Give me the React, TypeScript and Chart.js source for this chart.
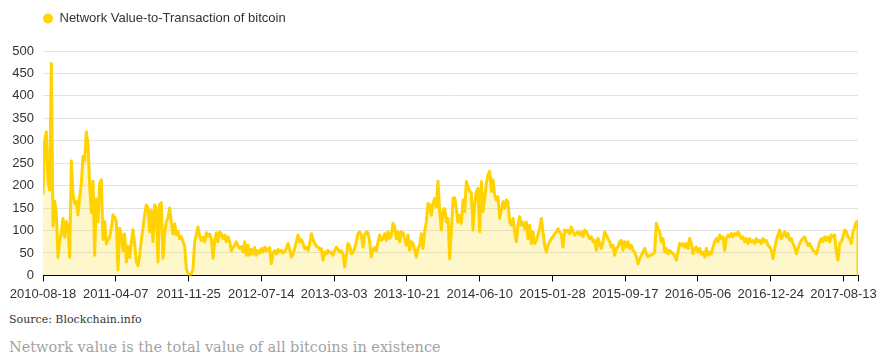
import React, { useEffect, useRef } from 'react';
import { Chart, registerables } from 'chart.js';

Chart.register(...registerables);

const SERIES_LABEL = 'Network Value-to-Transaction of bitcoin';
const SOURCE_TEXT = 'Source: Blockchain.info';
const NOTE_TEXT = 'Network value is the total value of all bitcoins in existence';
const START_DATE = '2010-08-18';
const SAMPLE_STEP_DAYS = 5.313;
const X_TICK_STEP_DAYS = 232;
const X_TICK_COUNT = 12;
const Y_MIN = 0;
const Y_MAX = 500;
const Y_STEP = 50;

// NVT readings, sampled every ~5.3 days starting 2010-08-18
const nvtAug2010toJun2012 = [
  180, 300, 320, 210, 190, 472, 110, 165, 140, 40,
  75, 95, 127, 85, 120, 105, 40, 255, 180, 160,
  165, 135, 175, 205, 265, 255, 320, 290, 200, 140,
  210, 45, 170, 120, 205, 213, 80, 120, 70, 80,
  85, 105, 135, 130, 120, 12, 105, 90, 55, 92,
  30, 65, 40, 75, 102, 70, 30, 22, 45, 80,
  105, 135, 157, 150, 97, 145, 75, 157, 150, 30,
  158, 162, 38, 92, 120, 128, 150, 118, 92, 115,
  90, 98, 82, 86, 75, 65, 15, 5, 0, 3,
  15, 75, 92, 108, 88, 78, 85, 75, 95, 88,
  92, 82, 38, 75, 95, 75, 97, 92, 82, 90,
  75, 86, 75, 55, 62, 67, 75, 66, 60, 64,
  52, 75, 45, 67, 45,
];

const nvtJun2012toFeb2014 = [
  58, 48, 62, 45, 55, 50, 60, 52, 63, 55,
  58, 62, 26, 50, 55, 48, 58, 52, 56, 50,
  54, 60, 71, 58, 41, 48, 60, 75, 90, 75,
  80, 72, 60, 62, 56, 70, 93, 80, 72, 65,
  63, 58, 60, 34, 52, 48, 56, 50, 52, 45,
  55, 63, 58, 52, 55, 48, 19, 45, 71, 65,
  48, 52, 60, 75, 93, 97, 90, 63, 90, 97,
  95, 75, 41, 58, 62, 55, 75, 90, 78, 82,
  93, 78, 97, 82, 90, 116, 108, 82, 97, 75,
  97, 95, 82, 67, 90, 56, 75, 72, 56, 41,
  60, 67, 93, 60, 97, 119, 160, 157, 134, 160,
  172, 153, 210, 142, 101, 146, 149, 119, 127, 37,
  97, 172, 173,
];

const nvtFeb2014toSep2015 = [
  149, 119, 134, 116, 168, 142, 209, 198, 187, 183,
  101, 157, 187, 194, 97, 209, 142, 172, 205, 224,
  232, 187, 213, 179, 168, 175, 127, 146, 164, 149,
  168, 164, 119, 112, 127, 97, 75, 112, 131, 112,
  119, 104, 119, 82, 112, 71, 97, 71, 78, 90,
  104, 127, 97, 67, 52, 67, 75, 82, 86, 93,
  97, 104, 97, 90, 63, 101, 97, 101, 93, 108,
  97, 90, 93, 97, 90, 97, 86, 101, 97, 90,
  82, 86, 75, 78, 56, 82, 71, 60, 75, 97,
  90, 82, 75, 63, 67, 45, 60, 63, 75, 78,
  56, 75, 63, 75, 60, 67, 56, 52, 41, 26,
  37, 45, 52, 60, 48, 41, 45, 45, 48, 52,
  116, 104, 97,
];

const nvtSep2015toSep2017 = [
  75, 82, 52, 60, 48, 56, 52, 48, 45, 34,
  52, 71, 67, 71, 63, 71, 60, 82, 71, 48,
  60, 63, 52, 60, 48, 52, 41, 60, 45, 52,
  48, 63, 75, 82, 75, 90, 82, 86, 56, 82,
  90, 86, 93, 86, 93, 90, 97, 90, 82, 86,
  75, 82, 71, 82, 75, 78, 71, 82, 75, 78,
  71, 82, 75, 78, 67, 63, 56, 37, 60, 78,
  90, 101, 82, 90, 97, 86, 93, 78, 82, 71,
  63, 48, 60, 71, 78, 82, 86, 75, 67, 71,
  63, 56, 52, 48, 60, 75, 82, 75, 86, 78,
  86, 75, 90, 86, 90, 52, 34, 71, 75, 86,
  101, 97, 86, 82, 71, 97, 108, 119, 121,
];

const nvtValues = [
  ...nvtAug2010toJun2012,
  ...nvtJun2012toFeb2014,
  ...nvtFeb2014toSep2015,
  ...nvtSep2015toSep2017,
];

const LINE_COLOR = '#FFD200';
const FILL_COLOR = 'rgba(255, 214, 0, 0.2)';
const TEXT_COLOR = '#333333';
const FONT = '"Liberation Sans", Arial, sans-serif';

function dayToLabel(day: number): string {
  const t = new Date(START_DATE + 'T00:00:00Z').getTime() + Math.round(day) * 86400000;
  return new Date(t).toISOString().slice(0, 10);
}

const legendSpacer = {
  id: 'legendSpacer',
  beforeInit(chart: any) {
    const legend = chart.legend;
    if (!legend) return;
    const origFit = legend.fit;
    legend.fit = function () {
      origFit.call(this);
      this.height += 16;
    };
  },
};

export default function App() {
  const ref = useRef<HTMLCanvasElement>(null);

  useEffect(() => {
    document.body.style.margin = '0';
    const points = nvtValues.map((v, i) => ({ x: i * SAMPLE_STEP_DAYS, y: v }));
    const lastX = points[points.length - 1].x;
    points.push({ x: lastX, y: 0 });
    const tickValues = Array.from({ length: X_TICK_COUNT }, (_, k) => k * X_TICK_STEP_DAYS).concat([lastX]);

    const chart = new Chart(ref.current as HTMLCanvasElement, {
      type: 'line',
      data: {
        datasets: [
          {
            label: SERIES_LABEL,
            data: points,
            borderColor: LINE_COLOR,
            backgroundColor: FILL_COLOR,
            fill: 'origin',
            borderWidth: 3,
            borderJoinStyle: 'round',
            pointRadius: 0,
            pointHoverRadius: 0,
            pointBackgroundColor: LINE_COLOR,
            pointBorderColor: LINE_COLOR,
            pointBorderWidth: 0,
            tension: 0,
          },
        ],
      },
      options: {
        animation: false,
        responsive: false,
        layout: { padding: { top: 12, right: 27, bottom: 0, left: 0 } },
        plugins: {
          legend: {
            position: 'top',
            align: 'start',
            fullSize: false,
            labels: {
              usePointStyle: true,
              pointStyle: 'circle',
              boxWidth: 10,
              boxHeight: 7,
              padding: 0,
              color: TEXT_COLOR,
              font: { family: FONT, size: 13 },
            },
          },
          tooltip: { enabled: false },
        },
        scales: {
          x: {
            type: 'linear',
            min: 0,
            max: lastX,
            afterBuildTicks: (s: any) => {
              s.ticks = tickValues.map((v) => ({ value: v }));
            },
            ticks: {
              autoSkip: false,
              maxRotation: 0,
              minRotation: 0,
              padding: 5,
              color: TEXT_COLOR,
              font: { family: FONT, size: 13 },
              callback: (value: any) => {
                const v = Number(value);
                return Math.abs(v % X_TICK_STEP_DAYS) < 0.001 ? dayToLabel(v) : '';
              },
            },
            grid: {
              display: true,
              drawOnChartArea: false,
              drawTicks: true,
              tickLength: 6,
              color: '#000000',
            },
            border: { display: true, color: '#000000', width: 1 },
          },
          y: {
            min: Y_MIN,
            max: Y_MAX,
            afterFit: (s: any) => {
              s.width = 43;
            },
            ticks: {
              stepSize: Y_STEP,
              padding: 9,
              color: TEXT_COLOR,
              font: { family: FONT, size: 13 },
            },
            grid: { color: '#e3e3e3', drawTicks: false },
            border: { display: false },
          },
        },
      },
      plugins: [legendSpacer],
    } as any);

    return () => chart.destroy();
  }, []);

  return (
    <div style={{ position: 'relative', width: 885, height: 358, background: '#fff', overflow: 'hidden' }}>
      <canvas ref={ref} width={885} height={307} style={{ display: 'block' }} />
      <div
        style={{
          position: 'absolute',
          left: 9,
          top: 313,
          fontFamily: '"DejaVu Serif", serif',
          fontSize: 11,
          lineHeight: '13px',
          color: '#333',
          whiteSpace: 'nowrap',
        }}
      >
        {SOURCE_TEXT}
      </div>
      <div
        style={{
          position: 'absolute',
          left: 9,
          top: 337.5,
          fontFamily: '"DejaVu Serif", serif',
          fontSize: 14.5,
          lineHeight: '18px',
          color: '#a3a3a3',
          whiteSpace: 'nowrap',
        }}
      >
        {NOTE_TEXT}
      </div>
    </div>
  );
}
